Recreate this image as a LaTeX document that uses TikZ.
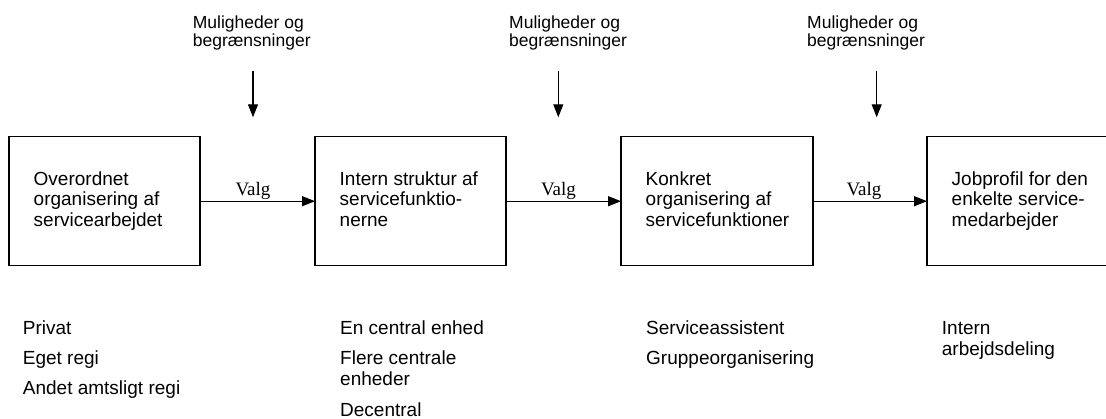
\documentclass[tikz,border=0pt]{standalone}
\usepackage{fontspec}
\setmainfont{Liberation Sans}
\newfontfamily\valgfont{Liberation Serif}
\usetikzlibrary{arrows.meta}
\begin{document}
\begin{tikzpicture}[x=1pt,y=-1pt,
  box/.style={draw, line width=1.3pt, minimum height=129pt, inner sep=0pt, outer sep=0pt, anchor=north west},
  boxtext/.style={font=\fontsize{19pt}{20.5pt}\selectfont, align=left, inner sep=0pt, anchor=west,
    execute at begin node={\rule{0pt}{17pt}}, execute at end node={\rule[-5pt]{0pt}{5pt}}},
  arr/.style={line width=1.1pt, -{Triangle[length=13pt,width=10pt]}},
  valg/.style={font=\valgfont\fontsize{19pt}{20pt}\selectfont, anchor=base, inner sep=0pt},
  mul/.style={font=\fontsize{17.5pt}{15.5pt}\selectfont, align=left, anchor=base west, inner sep=0pt},
  item/.style={font=\fontsize{19pt}{20.5pt}\selectfont, align=left, anchor=base west, inner sep=0pt}]
\useasboundingbox (0,0) rectangle (1106,419);
% boxes
\node[box, minimum width=191pt] (b1) at (9,136.7) {};
\node[box, minimum width=191pt] (b2) at (315,136.7) {};
\node[box, minimum width=192pt] (b3) at (621,136.7) {};
\node[box, minimum width=193pt] (b4) at (927,136.7) {};
% box texts
\node[boxtext] (t1) at ([xshift=24.5pt]b1.west) {Overordnet\\organisering af\\servicearbejdet};
\node[boxtext] (t2) at ([xshift=24.5pt]b2.west) {Intern struktur af\\servicefunktio-\\nerne};
\node[boxtext] (t3) at ([xshift=24.5pt]b3.west) {Konkret\\organisering af\\servicefunktioner};
\node[boxtext] (t4) at ([xshift=24.5pt]b4.west) {Jobprofil for den\\enkelte service-\\medarbejder};
% horizontal arrows
\draw[arr] (b1.east) -- (b2.west);
\draw[arr] (b2.east) -- (b3.west);
\draw[arr] (b3.east) -- (b4.west);
\node[valg] (v1) at (253,195.7) {Valg};
\node[valg] (v2) at (558.5,195.7) {Valg};
\node[valg] (v3) at (864,195.7) {Valg};
% top labels and arrows (base = last line's baseline)
\node[mul] (m1) at (192.7,46.2) {Muligheder og\\begrænsninger};
\node[mul] (m2) at (509,46.2) {Muligheder og\\begrænsninger};
\node[mul] (m3) at (807,46.2) {Muligheder og\\begrænsninger};
\coordinate (a1s) at (253,70.7);   \coordinate (a1e) at (253,117.3);
\coordinate (a2s) at (558.3,70.7); \coordinate (a2e) at (558.3,117.3);
\coordinate (a3s) at (876.7,70.7); \coordinate (a3e) at (876.7,117.3);
\draw[arr] (a1s) -- (a1e);
\draw[arr] (a2s) -- (a2e);
\draw[arr] (a3s) -- (a3e);
% lists
\node[item] (l11) at (22.7,335) {Privat};
\node[item] (l12) at (22.7,365) {Eget regi};
\node[item] (l13) at (22.7,395) {Andet amtsligt regi};
\node[item] (l21) at (340,335) {En central enhed};
\node[item] (l22) at (340,385.5) {Flere centrale\\enheder};
\node[item] (l23) at (340,416.7) {Decentral};
\node[item] (l31) at (646,335) {Serviceassistent};
\node[item] (l32) at (646,365) {Gruppeorganisering};
\node[item] (l41) at (941.7,355.5) {Intern\\arbejdsdeling};
\end{tikzpicture}
\end{document}
